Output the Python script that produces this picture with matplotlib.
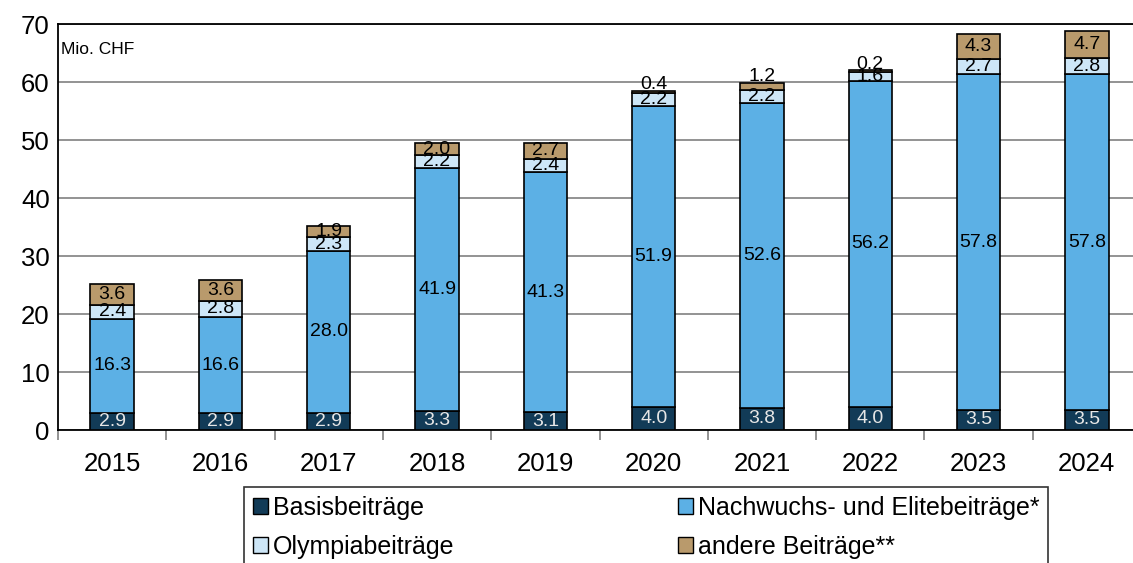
import matplotlib.pyplot as plt
import numpy as np

years = ['2015', '2016', '2017', '2018', '2019', '2020', '2021', '2022', '2023', '2024']
basis = [2.9, 2.9, 2.9, 3.3, 3.1, 4.0, 3.8, 4.0, 3.5, 3.5]
nachwuchs = [16.3, 16.6, 28.0, 41.9, 41.3, 51.9, 52.6, 56.2, 57.8, 57.8]
olympia = [2.4, 2.8, 2.3, 2.2, 2.4, 2.2, 2.2, 1.6, 2.7, 2.8]
andere = [3.6, 3.6, 1.9, 2.0, 2.7, 0.4, 1.2, 0.2, 4.3, 4.7]

series = [
    ('Basisbeiträge', basis, '#123b57', '#e6e6e6'),
    ('Nachwuchs- und Elitebeiträge*', nachwuchs, '#5cb0e5', 'black'),
    ('Olympiabeiträge', olympia, '#cde6f7', 'black'),
    ('andere Beiträge**', andere, '#b99a6c', 'black'),
]

plt.rcParams['font.family'] = ['Liberation Sans', 'DejaVu Sans']

fig = plt.figure(figsize=(11.33, 5.63), dpi=100)
ax = fig.add_axes([58/1133, 1 - 430/563, (1141 - 58)/1133, (430 - 24)/563])

x = np.arange(len(years))
bottom = np.zeros(len(years))
handles = []
for name, vals, col, tcol in series:
    vals = np.array(vals)
    b = ax.bar(x, vals, 0.4, bottom=bottom, color=col, edgecolor='black',
               linewidth=1.2, label=name, zorder=3)
    handles.append(b)
    for xi, v, bt in zip(x, vals, bottom):
        if v < 1.5 and name.startswith('andere'):
            ax.text(xi, bt + v - 0.4, f'{v:.1f}', ha='center', va='bottom',
                    fontsize=14, color=tcol, zorder=4)
        else:
            ax.text(xi, bt + v / 2, f'{v:.1f}', ha='center', va='center',
                    fontsize=14, color=tcol, zorder=4)
    bottom += vals

ax.set_xlim(-0.5, len(years) - 0.5)
ax.set_ylim(0, 70)
ax.set_yticks(range(0, 71, 10))
ax.yaxis.grid(True, color='#808080', linewidth=1.2, zorder=0)
ax.set_axisbelow(True)
ax.set_xticks(x)
ax.set_xticklabels(years, fontsize=18.5)
ax.tick_params(axis='x', length=0, pad=16)
ax.set_xticks(np.arange(-0.5, len(years), 1), minor=True)
ax.tick_params(axis='x', which='minor', length=7, width=1.2, color='#808080')
ax.tick_params(axis='y', labelsize=18.5, length=0, pad=6)
for s in ['left', 'top', 'bottom']:
    ax.spines[s].set_linewidth(1.3)
ax.spines['right'].set_visible(False)

ax.text(0.003, 0.955, 'Mio. CHF', transform=ax.transAxes, fontsize=12.5,
        ha='left', va='top')

order = [handles[0], handles[2], handles[1], handles[3]]
leg = fig.legend(handles=order, loc='upper left', ncol=2,
                 bbox_to_anchor=(244/1133, 1 - 487/563),
                 fontsize=18, frameon=True, fancybox=False, edgecolor='black',
                 handlelength=0.6, handleheight=0.6, handletextpad=0.2,
                 columnspacing=8.95, labelspacing=0.6, borderpad=0.35,
                 borderaxespad=0)
leg.get_frame().set_linewidth(1.2)
for h in leg.legend_handles:
    h.set_linewidth(1.0)

fig.savefig('out.png', dpi=100)
